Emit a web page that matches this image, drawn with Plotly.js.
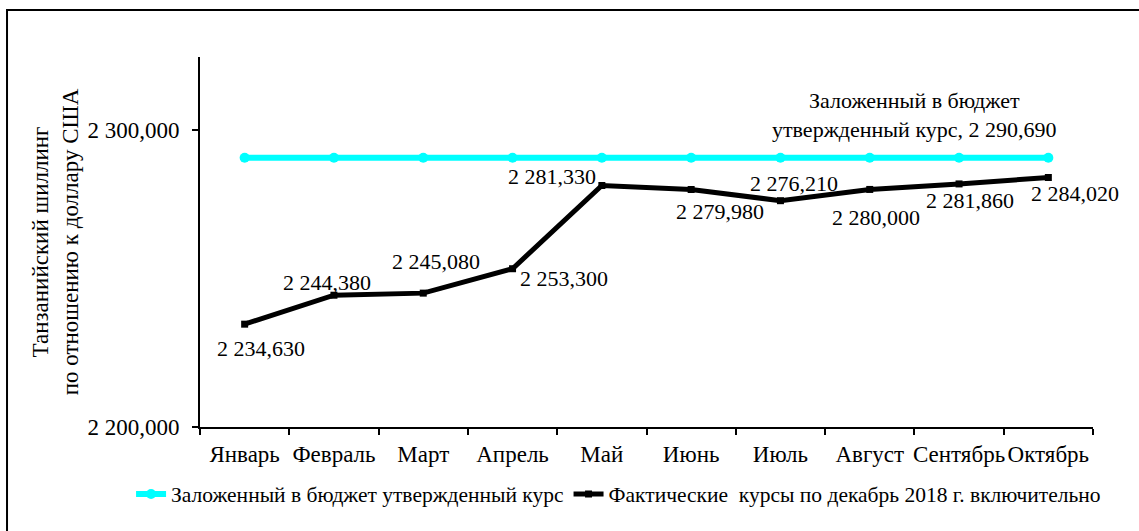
<!DOCTYPE html>
<html><head><meta charset="utf-8">
<script src="https://cdn.plot.ly/plotly-3.0.1.min.js"></script>
<style>html,body{margin:0;padding:0;background:#fff;}#chart{width:1139px;height:531px;}</style>
</head><body><div id="chart"></div>
<script>
const months = ["Январь","Февраль","Март","Апрель","Май","Июнь","Июль","Август","Сентябрь","Октябрь"];
const budgetRate = [2290.690,2290.690,2290.690,2290.690,2290.690,2290.690,2290.690,2290.690,2290.690,2290.690];
const actualRate = [2234.630,2244.380,2245.080,2253.300,2281.330,2279.980,2276.210,2280.000,2281.860,2284.020];
const budgetName = "Заложенный в бюджет утвержденный курс";
const actualName = "Фактические  курсы по декабрь 2018 г. включительно";
const budgetLabelText = "Заложенный в бюджет<br>утвержденный курс, ";
const yTitle = "Танзанийский шиллинг<br>по отношению к доллару США";

// label offsets (px) for data labels
const labelDx = [16,-7,13,51,-50,29,14,6,11,27];
const labelDy = [24,-13,-32,10,-9,22,-17,28,17,16];

function fmt(v){
  const s = v.toFixed(3).split('.');
  const int = s[0].replace(/\B(?=(\d{3})+(?!\d))/g,' ');
  return int + ',' + s[1];
}
const FONT = "'Liberation Serif', 'DejaVu Serif', serif";
const fsLabel = 22;
const fsTick = 23;

const traces = [
  {x: months, y: budgetRate, name: budgetName, type:'scatter', mode:'lines+markers',
   line:{color:'#00FFFF', width:6}, marker:{color:'#00FFFF', size:10, symbol:'circle'}},
  {x: months, y: actualRate, name: actualName, type:'scatter', mode:'lines+markers',
   line:{color:'#000000', width:5}, marker:{color:'#000000', size:7, symbol:'square'}}
];

const annotations = actualRate.map((v,i)=>({
  x: months[i], y: v, xref:'x', yref:'y', text: fmt(v), showarrow:false,
  xshift: labelDx[i], yshift: -labelDy[i], font:{family:FONT, size:fsLabel, color:'#000'}
}));
annotations.push({
  x: months[8], y: budgetRate[8], xref:'x', yref:'y', showarrow:false,
  text: budgetLabelText + fmt(budgetRate[8]), xshift:-45, yshift:43,
  font:{family:FONT, size:fsLabel, color:'#000'}, align:'center'
});

const layout = {
  width:1139, height:531,
  margin:{l:200, r:46, t:57, b:104, autoexpand:false},
  paper_bgcolor:'#fff', plot_bgcolor:'#fff',
  separators:', ',
  font:{family:FONT, size:fsTick, color:'#000'},
  showlegend:true,
  legend:{orientation:'h', x:-0.0772, xanchor:'left', y:-0.181, yanchor:'middle',
          font:{family:FONT, size:21.5, color:'#000'}, itemwidth:30, tracegroupgap:0},
  xaxis:{type:'category', range:[-0.5,9.5], showline:true, linecolor:'#000', linewidth:2,
         ticks:'outside', tickson:'boundaries', ticklen:6, tickwidth:2, tickcolor:'#000',
         tickangle:0, ticklabelstandoff:5, showgrid:false, zeroline:false, tickfont:{family:FONT, size:fsTick}},
  yaxis:{range:[2200, 2324.6], dtick:100, tick0:2200, tickformat:',.3f', showline:true,
         linecolor:'#000', linewidth:2, ticks:'outside', ticklen:6, tickwidth:2, tickcolor:'#000',
         ticklabelstandoff:8,
         showgrid:false, zeroline:false, tickfont:{family:FONT, size:fsTick},
         title:{text:yTitle, font:{family:FONT, size:fsTick}, standoff:2}},
  annotations: annotations,
  shapes:[{type:'rect', xref:'paper', yref:'paper', x0:-0.2161, x1:1.2, y0:-0.5, y1:1.127,
           line:{color:'#000', width:2}, fillcolor:'rgba(0,0,0,0)'}]
};
Plotly.newPlot('chart', traces, layout, {staticPlot:true, displayModeBar:false});
</script></body></html>
